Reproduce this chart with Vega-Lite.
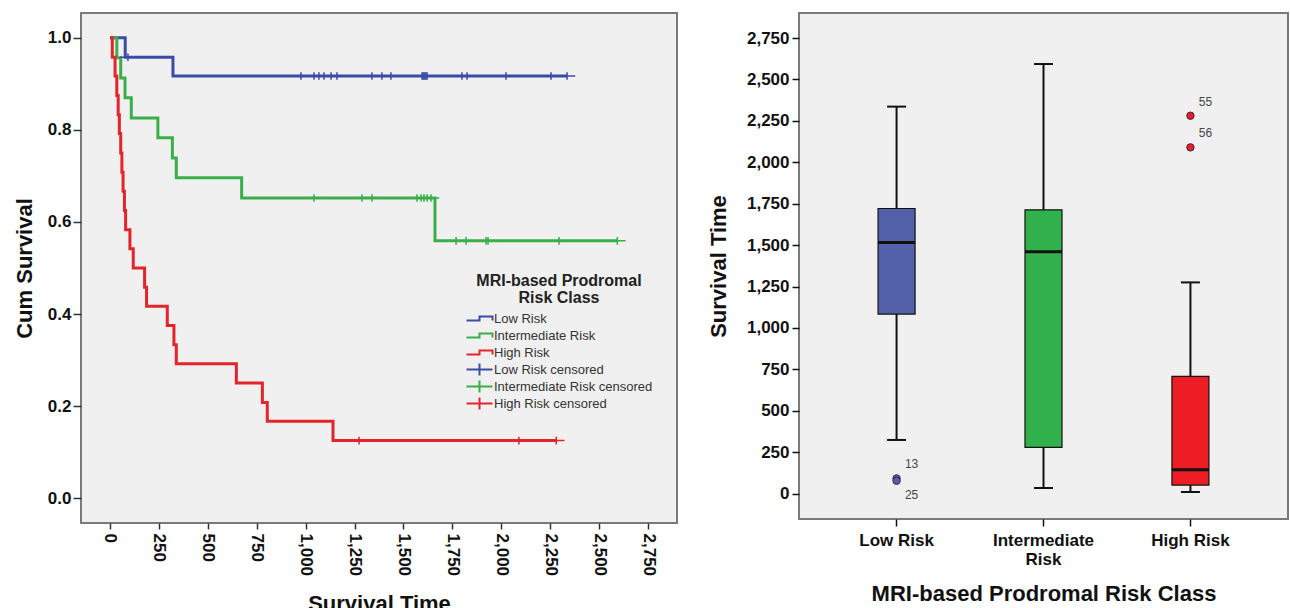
{
  "$schema": "https://vega.github.io/schema/vega-lite/v6.json",
  "background": "white",
  "padding": {"left": 12, "top": 12, "right": 0, "bottom": 0},
  "config": {
    "font": "Liberation Sans",
    "axis": {"grid": false, "domain": false, "labelFont": "Liberation Sans", "titleFont": "Liberation Sans", "labelFontWeight": "bold", "titleFontWeight": "bold", "labelColor": "#111", "titleColor": "#111", "tickColor": "#333", "tickWidth": 1.5}
  },
  "datasets": {
    "km": [
      {"legend": "Low Risk", "time": 0, "surv": 1.0},
      {"legend": "Low Risk", "time": 78, "surv": 0.958},
      {"legend": "Low Risk", "time": 322, "surv": 0.917},
      {"legend": "Low Risk", "time": 2336, "surv": 0.917},
      {"legend": "Intermediate Risk", "time": 0, "surv": 1.0},
      {"legend": "Intermediate Risk", "time": 35, "surv": 0.957},
      {"legend": "Intermediate Risk", "time": 55, "surv": 0.913},
      {"legend": "Intermediate Risk", "time": 77, "surv": 0.870},
      {"legend": "Intermediate Risk", "time": 109, "surv": 0.826},
      {"legend": "Intermediate Risk", "time": 245, "surv": 0.783},
      {"legend": "Intermediate Risk", "time": 319, "surv": 0.739},
      {"legend": "Intermediate Risk", "time": 339, "surv": 0.696},
      {"legend": "Intermediate Risk", "time": 673, "surv": 0.652},
      {"legend": "Intermediate Risk", "time": 1661, "surv": 0.559},
      {"legend": "Intermediate Risk", "time": 2593, "surv": 0.559},
      {"legend": "High Risk", "time": 0, "surv": 1.0},
      {"legend": "High Risk", "time": 12, "surv": 0.958},
      {"legend": "High Risk", "time": 26, "surv": 0.917},
      {"legend": "High Risk", "time": 35, "surv": 0.875},
      {"legend": "High Risk", "time": 42, "surv": 0.833},
      {"legend": "High Risk", "time": 48, "surv": 0.792},
      {"legend": "High Risk", "time": 55, "surv": 0.75},
      {"legend": "High Risk", "time": 61, "surv": 0.708},
      {"legend": "High Risk", "time": 67, "surv": 0.667},
      {"legend": "High Risk", "time": 74, "surv": 0.625},
      {"legend": "High Risk", "time": 80, "surv": 0.583},
      {"legend": "High Risk", "time": 102, "surv": 0.542},
      {"legend": "High Risk", "time": 119, "surv": 0.5},
      {"legend": "High Risk", "time": 177, "surv": 0.458},
      {"legend": "High Risk", "time": 187, "surv": 0.417},
      {"legend": "High Risk", "time": 293, "surv": 0.375},
      {"legend": "High Risk", "time": 327, "surv": 0.333},
      {"legend": "High Risk", "time": 339, "surv": 0.292},
      {"legend": "High Risk", "time": 646, "surv": 0.25},
      {"legend": "High Risk", "time": 779, "surv": 0.208},
      {"legend": "High Risk", "time": 804, "surv": 0.167},
      {"legend": "High Risk", "time": 1140, "surv": 0.125},
      {"legend": "High Risk", "time": 2281, "surv": 0.125}
    ],
    "cens": [
      {"legend": "Low Risk censored", "time": 92, "surv": 0.958},
      {"legend": "Low Risk censored", "time": 976, "surv": 0.917},
      {"legend": "Low Risk censored", "time": 1043, "surv": 0.917},
      {"legend": "Low Risk censored", "time": 1068, "surv": 0.917},
      {"legend": "Low Risk censored", "time": 1094, "surv": 0.917},
      {"legend": "Low Risk censored", "time": 1130, "surv": 0.917},
      {"legend": "Low Risk censored", "time": 1160, "surv": 0.917},
      {"legend": "Low Risk censored", "time": 1339, "surv": 0.917},
      {"legend": "Low Risk censored", "time": 1390, "surv": 0.917},
      {"legend": "Low Risk censored", "time": 1436, "surv": 0.917},
      {"legend": "Low Risk censored", "time": 1595, "surv": 0.917},
      {"legend": "Low Risk censored", "time": 1600, "surv": 0.917},
      {"legend": "Low Risk censored", "time": 1605, "surv": 0.917},
      {"legend": "Low Risk censored", "time": 1610, "surv": 0.917},
      {"legend": "Low Risk censored", "time": 1615, "surv": 0.917},
      {"legend": "Low Risk censored", "time": 1621, "surv": 0.917},
      {"legend": "Low Risk censored", "time": 1799, "surv": 0.917},
      {"legend": "Low Risk censored", "time": 1825, "surv": 0.917},
      {"legend": "Low Risk censored", "time": 2024, "surv": 0.917},
      {"legend": "Low Risk censored", "time": 2254, "surv": 0.917},
      {"legend": "Low Risk censored", "time": 2336, "surv": 0.917},
      {"legend": "Intermediate Risk censored", "time": 1043, "surv": 0.652},
      {"legend": "Intermediate Risk censored", "time": 1288, "surv": 0.652},
      {"legend": "Intermediate Risk censored", "time": 1339, "surv": 0.652},
      {"legend": "Intermediate Risk censored", "time": 1569, "surv": 0.652},
      {"legend": "Intermediate Risk censored", "time": 1590, "surv": 0.652},
      {"legend": "Intermediate Risk censored", "time": 1605, "surv": 0.652},
      {"legend": "Intermediate Risk censored", "time": 1621, "surv": 0.652},
      {"legend": "Intermediate Risk censored", "time": 1641, "surv": 0.652},
      {"legend": "Intermediate Risk censored", "time": 1769, "surv": 0.559},
      {"legend": "Intermediate Risk censored", "time": 1820, "surv": 0.559},
      {"legend": "Intermediate Risk censored", "time": 1922, "surv": 0.559},
      {"legend": "Intermediate Risk censored", "time": 1932, "surv": 0.559},
      {"legend": "Intermediate Risk censored", "time": 2295, "surv": 0.559},
      {"legend": "Intermediate Risk censored", "time": 2593, "surv": 0.559},
      {"legend": "High Risk censored", "time": 1273, "surv": 0.125},
      {"legend": "High Risk censored", "time": 2090, "surv": 0.125},
      {"legend": "High Risk censored", "time": 2281, "surv": 0.125}
    ],
    "box": [
      {"cls": "Low Risk", "lower": 324, "q1": 1084, "median": 1516, "q3": 1721, "upper": 2336},
      {"cls": "Intermediate Risk", "lower": 34, "q1": 279, "median": 1460, "q3": 1713, "upper": 2593},
      {"cls": "High Risk", "lower": 10, "q1": 52, "median": 145, "q3": 708, "upper": 1275}
    ],
    "out": [
      {"cls": "Low Risk", "value": 92, "id": "13"},
      {"cls": "Low Risk", "value": 78, "id": "25"},
      {"cls": "High Risk", "value": 2281, "id": "55"},
      {"cls": "High Risk", "value": 2090, "id": "56"}
    ]
  },
  "spacing": 28,
  "hconcat": [
    {
      "width": 596,
      "height": 510,
      "view": {"fill": "#f0f0f0", "stroke": "#7a7a7a", "strokeWidth": 2},
      "encoding": {
        "x": {"field": "time", "type": "quantitative", "title": "Survival Time",
          "scale": {"domain": [-148, 2898], "nice": false, "zero": false},
          "axis": {"values": [0, 250, 500, 750, 1000, 1250, 1500, 1750, 2000, 2250, 2500, 2750], "format": ",d", "labelAngle": 90, "labelFontSize": 17, "tickSize": 6, "labelPadding": 4, "titleFontSize": 22, "titlePadding": 18}},
        "y": {"field": "surv", "type": "quantitative", "title": "Cum Survival",
          "scale": {"domain": [-0.054, 1.054], "nice": false, "zero": false},
          "axis": {"values": [0, 0.2, 0.4, 0.6, 0.8, 1.0], "format": ".1f", "labelFontSize": 17, "tickSize": 8, "labelPadding": 2, "titleFontSize": 22, "titlePadding": 11}}
      },
      "layer": [
        {
          "data": {"name": "km"},
          "mark": {"type": "line", "interpolate": "step-after", "strokeWidth": 3},
          "encoding": {
            "color": {"field": "legend", "type": "nominal",
              "scale": {"domain": ["Low Risk", "Intermediate Risk", "High Risk", "Low Risk censored", "Intermediate Risk censored", "High Risk censored"],
                "range": ["#3b4ba6", "#3aae48", "#e3242b", "#3b4ba6", "#3aae48", "#e3242b"]},
              "legend": {
                "title": ["MRI-based Prodromal", "Risk Class"],
                "orient": "none", "legendX": 384, "legendY": 260,
                "titleFont": "Liberation Sans", "titleFontSize": 16, "titleFontWeight": "bold", "titleColor": "#222",
                "titleAnchor": "middle", "titleAlign": "center", "titleLineHeight": 17, "titleLimit": 400, "titlePadding": 6,
                "labelFont": "Liberation Sans", "labelFontSize": 13, "labelColor": "#333", "labelLimit": 400,
                "symbolSize": 100, "symbolStrokeWidth": 2, "symbolFillColor": "transparent",
                "symbolOffset": 8, "labelOffset": 8, "rowPadding": -4
              }
            }
          }
        },
        {
          "data": {"name": "cens"},
          "mark": {"type": "point", "filled": false, "size": 40, "strokeWidth": 1.5, "opacity": 1},
          "encoding": {
            "color": {"field": "legend", "type": "nominal"},
            "shape": {"field": "legend", "type": "nominal",
              "scale": {"domain": ["Low Risk", "Intermediate Risk", "High Risk", "Low Risk censored", "Intermediate Risk censored", "High Risk censored"],
                "range": ["M0,-1.2M0,1.2M-2.6,0.4H0V-0.4H2.6V0.4", "M0,-1.2M0,1.2M-2.6,0.4H0V-0.4H2.6V0.4", "M0,-1.2M0,1.2M-2.6,0.4H0V-0.4H2.6V0.4", "M-2.6,0H2.6M0,-1.2V1.2", "M-2.6,0H2.6M0,-1.2V1.2", "M-2.6,0H2.6M0,-1.2V1.2"]},
              "legend": {
                "title": ["MRI-based Prodromal", "Risk Class"],
                "orient": "none", "legendX": 384, "legendY": 260,
                "titleFont": "Liberation Sans", "titleFontSize": 16, "titleFontWeight": "bold", "titleColor": "#222",
                "titleAnchor": "middle", "titleAlign": "center", "titleLineHeight": 17, "titleLimit": 400, "titlePadding": 6,
                "labelFont": "Liberation Sans", "labelFontSize": 13, "labelColor": "#333", "labelLimit": 400,
                "symbolSize": 100, "symbolStrokeWidth": 2, "symbolFillColor": "transparent",
                "symbolOffset": 8, "labelOffset": 8, "rowPadding": -4
              }
            }
          }
        }
      ]
    },
    {
      "width": 489,
      "height": 506,
      "view": {"fill": "#f0f0f0", "stroke": "#7a7a7a", "strokeWidth": 2},
      "encoding": {
        "x": {"field": "cls", "type": "nominal", "title": "MRI-based Prodromal Risk Class",
          "sort": ["Low Risk", "Intermediate Risk", "High Risk"],
          "scale": {"paddingInner": 0, "paddingOuter": 0.164},
          "axis": {"labelAngle": 0, "labelFontSize": 17, "labelLineHeight": 19, "labelExpr": "datum.label == 'Intermediate Risk' ? ['Intermediate', 'Risk'] : datum.label", "tickSize": 7, "tickColor": "#111", "labelPadding": 6, "titleFontSize": 22, "titlePadding": 16}}
      },
      "layer": [
        {
          "data": {"name": "box"},
          "mark": {"type": "rule", "color": "#111", "strokeWidth": 2},
          "encoding": {
            "y": {"field": "lower", "type": "quantitative", "title": "Survival Time",
              "scale": {"domain": [-153, 2901], "nice": false, "zero": false},
              "axis": {"values": [0, 250, 500, 750, 1000, 1250, 1500, 1750, 2000, 2250, 2500, 2750], "format": ",d", "labelFontSize": 17, "tickSize": 7, "tickColor": "#111", "labelPadding": 3, "titleFontSize": 22, "titlePadding": 16}},
            "y2": {"field": "upper"}
          }
        },
        {
          "data": {"name": "box"},
          "mark": {"type": "tick", "color": "#111", "size": 19, "thickness": 2, "opacity": 1},
          "encoding": {"y": {"field": "upper", "type": "quantitative"}}
        },
        {
          "data": {"name": "box"},
          "mark": {"type": "tick", "color": "#111", "size": 19, "thickness": 2, "opacity": 1},
          "encoding": {"y": {"field": "lower", "type": "quantitative"}}
        },
        {
          "data": {"name": "box"},
          "mark": {"type": "bar", "size": 37, "stroke": "#111", "strokeWidth": 1.2},
          "encoding": {
            "y": {"field": "q1", "type": "quantitative"},
            "y2": {"field": "q3"},
            "fill": {"field": "cls", "type": "nominal", "legend": null,
              "scale": {"domain": ["Low Risk", "Intermediate Risk", "High Risk"], "range": ["#5360aa", "#30b14b", "#ec1d25"]}}
          }
        },
        {
          "data": {"name": "box"},
          "mark": {"type": "tick", "color": "#111", "size": 37, "thickness": 3, "opacity": 1},
          "encoding": {"y": {"field": "median", "type": "quantitative"}}
        },
        {
          "data": {"name": "out"},
          "mark": {"type": "point", "shape": "circle", "filled": true, "size": 55, "stroke": "#40204a", "strokeWidth": 1, "opacity": 1},
          "encoding": {
            "y": {"field": "value", "type": "quantitative"},
            "fill": {"field": "cls", "type": "nominal", "legend": null}
          }
        },
        {
          "data": {"name": "out"},
          "transform": [{"filter": "datum.id != '25'"}],
          "mark": {"type": "text", "dx": 15, "dy": -14, "fontSize": 12, "color": "#444", "font": "Liberation Sans"},
          "encoding": {"y": {"field": "value", "type": "quantitative"}, "text": {"field": "id"}}
        },
        {
          "data": {"name": "out"},
          "transform": [{"filter": "datum.id == '25'"}],
          "mark": {"type": "text", "dx": 15, "dy": 14, "fontSize": 12, "color": "#444", "font": "Liberation Sans"},
          "encoding": {"y": {"field": "value", "type": "quantitative"}, "text": {"field": "id"}}
        }
      ]
    }
  ]
}
